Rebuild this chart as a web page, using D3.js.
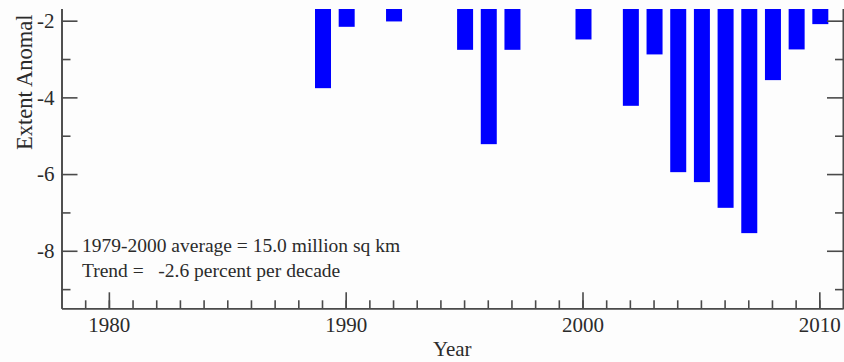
<!DOCTYPE html>
<html>
<head>
<meta charset="utf-8">
<script src="https://cdn.jsdelivr.net/npm/d3@7"></script>
<style>
  body { margin: 0; background: #fdfdfd; }
  text { font-family: "Liberation Serif", "DejaVu Serif", serif; fill: #2b2b2b; }
  .axis path, .axis line { stroke: #4a4a4a; stroke-width: 1.6; }
</style>
</head>
<body>
<script>
const width = 844
const height = 362

// visible anomaly bars (million sq km), years above -1.7 are cut off in the view
const years = [1989, 1990, 1992, 1995, 1996, 1997, 2000, 2002, 2003, 2004, 2005, 2006, 2007, 2008, 2009, 2010];
const anomalies = [-3.76, -2.16, -2.02, -2.76, -5.22, -2.76, -2.49, -4.22, -2.88, -5.95, -6.21, -6.88, -7.54, -3.55, -2.75, -2.09];

const yearTicks = [1980, 1990, 2000, 2010];
const yTicks = [-2, -4, -6, -8];
const notes = ["1979-2000 average = 15.0 million sq km", "Trend =   -2.6 percent per decade"];

const svg = d3.select("body").append("svg")
    .attr("width", width)
    .attr("height", height);

// the view is cropped at the top
svg.append("clipPath").attr("id", "crop")
  .append("rect")
    .attr("x", 0).attr("y", 9)
    .attr("width", width).attr("height", height - 9);

const g = svg.append("g").attr("clip-path", "url(#crop)");

const x = d3.scaleLinear()
    .domain([1978, 2011])
    .range([61.5, 843]);

const y = d3.scaleLinear()
    .domain([-9.5, 0])
    .range([308.3, 308.3 - 9.5 * 38.35]);

// bars hang from zero
g.selectAll("rect.bar")
    .data(years)
    .enter()
    .append("rect")
    .attr("class", "bar")
    .attr("x", (d) => x(d) - 7)
    .attr("width", 16)
    .attr("y", y(0))
    .attr("height", (d, i) => y(anomalies[i]) - y(0))
    .style("fill", "#0000ff");

// bottom axis, ticks pointing inward
const allYears = d3.range(1979, 2011);
g.append("g")
    .attr("class", "axis")
    .attr("transform", `translate(0,${y(-9.5)})`)
    .call(d3.axisBottom(x).tickValues(allYears).tickSize(-8).tickSizeOuter(0).tickFormat(""));

g.append("g")
    .attr("class", "axis")
    .attr("transform", `translate(0,${y(-9.5)})`)
    .call(d3.axisBottom(x).tickValues(yearTicks).tickSize(-16).tickSizeOuter(0).tickPadding(9).tickFormat(d3.format("d")))
    .call(a => a.selectAll("text").style("font-size", "21px").attr("fill", "#2b2b2b"));

// left and right axes
const minorY = [-3, -5, -7, -9];
g.append("g")
    .attr("class", "axis")
    .attr("transform", `translate(${x(1978)},0)`)
    .call(d3.axisLeft(y).tickValues(minorY).tickSize(-9).tickSizeOuter(0).tickFormat(""));

g.append("g")
    .attr("class", "axis")
    .attr("transform", `translate(${x(1978)},0)`)
    .call(d3.axisLeft(y).tickValues(yTicks).tickSize(-16).tickSizeOuter(0).tickPadding(7).tickFormat(d => String(d)))
    .call(a => a.selectAll("text").style("font-size", "21px").attr("fill", "#2b2b2b"));

g.append("g")
    .attr("class", "axis")
    .attr("transform", `translate(${x(2011)},0)`)
    .call(d3.axisRight(y).tickValues(minorY).tickSize(-8).tickSizeOuter(0).tickFormat(""));

g.append("g")
    .attr("class", "axis")
    .attr("transform", `translate(${x(2011)},0)`)
    .call(d3.axisRight(y).tickValues(yTicks).tickSize(-16).tickSizeOuter(0).tickFormat(""));

// axis titles
g.append("text")
    .attr("x", (x(1978) + x(2011)) / 2)
    .attr("y", 356)
    .attr("text-anchor", "middle")
    .style("font-size", "21px")
    .text("Year");

svg.append("text")
    .attr("transform", "translate(32,150) rotate(-90)")
    .style("font-size", "22.5px")
    .text("Extent Anomal");

// notes
g.selectAll("text.note")
    .data(notes)
    .enter()
    .append("text")
    .attr("class", "note")
    .attr("x", 82)
    .attr("y", (d, i) => 252 + i * 25)
    .style("font-size", "19.5px")
    .style("white-space", "pre")
    .text(d => d);
</script>
</body>
</html>
